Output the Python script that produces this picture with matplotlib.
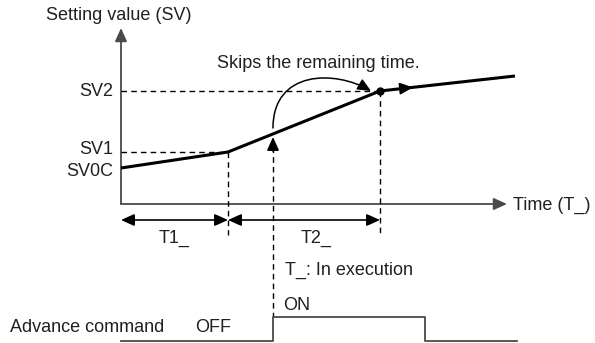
import matplotlib
matplotlib.use("Agg")
import matplotlib.pyplot as plt
from matplotlib.patches import FancyArrowPatch
from matplotlib.path import Path

plt.rcParams['font.family'] = ['Liberation Sans', 'DejaVu Sans']

# profile (time from origin, value above time axis)
prof_t = [0, 107, 259, 394]
prof_sv = [36, 52, 113, 128]
sv_names = ['SV0C', 'SV1', 'SV2']
sv_levels = [32, 54, 113]
t1_end = 107
t2_end = 259
skip_t = 152
skip_sv = 67
axis_top = 176
axis_right = 386
# advance command signal
cmd_t = [0, skip_t, skip_t, 304, 304, 396]
cmd_lvl = [-137, -137, -113, -113, -137, -137]

txt = '#231f20'
gray = '#4a4a4a'
fs = 13

fig = plt.figure(figsize=(5.95, 3.43), dpi=100)
ax = fig.add_axes([0, 0, 1, 1])
ax.set_xlim(-121, 474)
ax.set_ylim(-139, 204)
ax.axis('off')


def arrow(p0, p1, style='-|>', color='black', lw=1.2):
    a = FancyArrowPatch(p0, p1, arrowstyle=style + ',head_length=0.8,head_width=0.36',
                        mutation_scale=10, shrinkA=0, shrinkB=0,
                        color=color, lw=lw)
    ax.add_patch(a)


# axes
arrow((0, 0), (0, axis_top), color=gray, lw=1.3)
arrow((0, 0), (axis_right, 0), color=gray, lw=1.3)

# dashed guides
dash = dict(color='black', lw=1.0, dashes=(4, 3))
ax.plot([0, t1_end], [prof_sv[1], prof_sv[1]], **dash)
ax.plot([0, t2_end], [prof_sv[2], prof_sv[2]], **dash)
ax.plot([t1_end, t1_end], [prof_sv[1], -31], **dash)
ax.plot([t2_end, t2_end], [prof_sv[2], -31], **dash)
ax.plot([skip_t, skip_t], [skip_sv - 10, cmd_lvl[2]], **dash)

# profile line
ax.plot(prof_t, prof_sv, color='black', lw=2.2, solid_capstyle='butt')
ax.plot(prof_t[2], prof_sv[2], 'o', color='black', ms=5)
mx = 292
my = prof_sv[2] + (prof_sv[3] - prof_sv[2]) * (mx - prof_t[2]) / (prof_t[3] - prof_t[2])
arrow((mx - 12, my - 1.2), (mx, my))

# skip up arrow
arrow((skip_t, skip_sv - 14), (skip_t, skip_sv))

# curved arrow
verts = [(skip_t, 76), (skip_t, 134), (214, 134), (250, 113)]
cp = FancyArrowPatch(path=Path(verts, [Path.MOVETO, Path.CURVE4, Path.CURVE4, Path.CURVE4]),
                     arrowstyle='-|>,head_length=0.8,head_width=0.36', mutation_scale=10,
                     color='black', lw=1.1)
ax.add_patch(cp)

# dimension arrows
arrow((0, -16), (t1_end, -16), style='<|-|>', color='black', lw=1.2)
arrow((t1_end, -16), (t2_end, -16), style='<|-|>', color='black', lw=1.2)

# advance command
ax.plot(cmd_t, cmd_lvl, color=gray, lw=1.3)

# texts
ax.text(-75, 189, 'Setting value (SV)', fontsize=fs, color=txt, va='center')
ax.text(96, 141, 'Skips the remaining time.', fontsize=fs, color=txt, va='center')
for name, lv in zip(sv_names, sv_levels):
    ax.text(-8, lv, name, fontsize=fs, color=txt, va='center', ha='right')
ax.text(392, -1, 'Time (T_)', fontsize=fs, color=txt, va='center')
ax.text(53, -34, 'T1_', fontsize=fs, color=txt, va='center', ha='center')
ax.text(195, -34, 'T2_', fontsize=fs, color=txt, va='center', ha='center')
ax.text(164, -66, 'T_: In execution', fontsize=fs, color=txt, va='center')
ax.text(162, -101, 'ON', fontsize=fs, color=txt, va='center')
ax.text(-111, -123, 'Advance command', fontsize=fs, color=txt, va='center')
ax.text(92, -123, 'OFF', fontsize=fs, color=txt, va='center', ha='center')

fig.savefig('out.png', dpi=100)
